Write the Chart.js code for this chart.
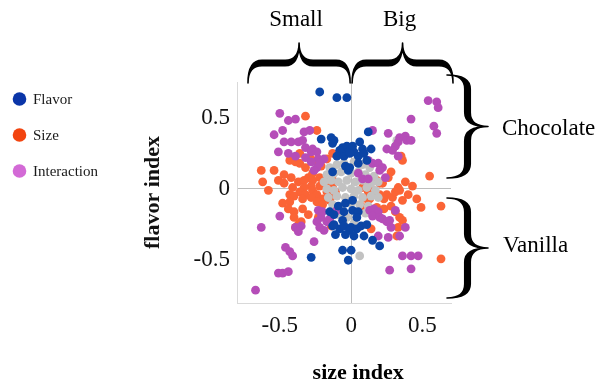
<!DOCTYPE html>
<html>
<head>
<meta charset="utf-8">
<script src="https://cdn.jsdelivr.net/npm/chart.js@4/dist/chart.umd.min.js"></script>
<style>
  html, body { margin: 0; padding: 0; background: #ffffff; }
  #wrap { width: 603px; height: 385px; position: relative; }
</style>
</head>
<body>
<div id="wrap"><canvas id="chart" width="603" height="385"></canvas></div>
<script>
// Tick positions shared by both axes
const tickValues = [-0.5, 0, 0.5];

// Series names shown in the legend
const seriesNames = ['Flavor', 'Size', 'Interaction'];

// Region labels around the plot
const sizeLabels = ['Small', 'Big'];
const flavorLabels = ['Chocolate', 'Vanilla'];

// [size index, flavor index] pairs for each effect
const flavor = [
  [-0.22,0.68],[-0.10,0.64],[-0.03,0.64],[0.12,0.40],[-0.21,0.35],[-0.14,0.36],[-0.12,0.34],
  [-0.13,0.32],[-0.06,0.29],[-0.03,0.30],[-0.08,0.27],[-0.10,0.23],[-0.05,0.23],[-0.02,0.26],
  [0.02,0.26],[0.06,0.33],[0.01,0.30],[0.08,0.28],[0.14,0.28],[0.05,0.23],[0.09,0.25],
  [-0.01,0.25],[-0.04,0.16],[-0.02,0.13],[-0.01,0.15],[0.11,0.20],[0.05,0.18],[-0.13,0.12],
  [-0.09,-0.12],[-0.04,-0.10],[0.01,-0.08],[-0.15,-0.16],[-0.12,-0.18],[-0.05,-0.16],[0.01,-0.15],
  [0.05,-0.16],[0.04,-0.20],[-0.06,-0.22],[-0.13,-0.26],[-0.08,-0.28],[-0.05,-0.26],[0.00,-0.27],
  [0.04,-0.28],[0.07,-0.26],[0.11,-0.25],[-0.01,-0.29],[-0.11,-0.32],[-0.04,-0.32],[0.02,-0.33],
  [0.09,-0.33],[0.15,-0.36],[0.20,-0.40],[-0.06,-0.43],[0.00,-0.43],[-0.02,-0.50],[-0.28,-0.48],
  [-0.12,-0.25]
];

const size = [
  [-0.32,0.51],[-0.24,0.41],[-0.36,0.25],[-0.43,0.20],[-0.39,0.19],[-0.17,0.21],[-0.13,0.25],
  [-0.28,0.21],[-0.24,0.19],[-0.21,0.16],[-0.36,0.18],[-0.32,0.15],
  [-0.63,0.13],[-0.62,0.05],[-0.58,-0.01],[-0.54,0.13],[-0.47,0.10],[-0.51,0.06],[-0.47,0.04],
  [-0.42,0.08],[-0.37,0.05],[-0.30,0.08],[-0.27,0.11],[-0.27,0.06],[-0.22,0.08],[-0.19,0.06],
  [-0.33,0.06],[-0.22,0.02],[-0.28,0.02],[-0.33,0.01],[-0.41,0.01],[-0.16,0.02],[-0.13,0.06],
  [-0.13,0.01],[-0.43,-0.04],[-0.36,-0.02],[-0.32,-0.04],[-0.27,-0.01],[-0.24,-0.04],[-0.17,-0.02],
  [-0.11,-0.02],[-0.15,-0.05],[-0.20,-0.07],[-0.28,-0.06],[-0.34,-0.07],[-0.40,-0.05],[-0.48,-0.10],
  [-0.43,-0.09],[-0.44,-0.14],[-0.40,-0.16],[-0.34,-0.14],[-0.30,-0.18],[-0.24,-0.09],[-0.20,-0.11],
  [-0.23,-0.20],[-0.35,-0.23],[-0.37,-0.25],[-0.39,-0.27],[-0.14,-0.26],[-0.40,-0.20],[-0.15,-0.08],
  [0.55,0.09],[0.35,0.23],[0.36,0.20],[0.28,0.12],[0.26,0.08],[0.22,0.04],[0.18,0.06],
  [0.13,0.04],[0.09,0.06],[0.38,0.05],[0.43,0.02],[0.33,0.01],[0.20,0.04],[0.25,-0.04],
  [0.29,-0.06],[0.34,-0.01],[0.36,-0.08],[0.12,-0.02],[0.08,0.01],[0.15,-0.01],[0.20,-0.04],
  [0.23,-0.07],[0.31,-0.02],[0.40,-0.04],[0.46,-0.07],[0.49,-0.13],[0.63,-0.12],[0.13,-0.07],
  [0.18,-0.13],[0.07,-0.12],[0.23,-0.14],[0.28,-0.12],[0.31,-0.16],[0.34,-0.20],[0.36,-0.22],
  [0.33,-0.27],[0.14,-0.28],[0.32,-0.33],[0.63,-0.49],[0.11,-0.07]
];

const interaction = [
  [-0.50,0.53],[-0.44,0.48],[-0.39,0.49],[-0.54,0.38],[-0.48,0.41],[-0.33,0.40],[-0.29,0.41],
  [-0.47,0.33],[-0.42,0.33],[-0.37,0.33],[-0.34,0.34],[-0.32,0.29],[-0.27,0.28],[-0.28,0.26],
  [-0.24,0.26],[-0.23,0.21],[-0.32,0.22],[-0.28,0.19],[-0.24,0.15],[-0.26,0.13],[-0.51,0.26],
  [-0.44,0.25],[-0.39,0.23],[-0.19,0.21],[-0.22,0.18],
  [0.54,0.62],[0.60,0.61],[0.61,0.57],[0.42,0.49],[0.58,0.44],[0.60,0.39],[0.15,0.41],
  [0.26,0.39],[0.34,0.36],[0.38,0.37],[0.39,0.34],[0.42,0.34],[0.33,0.33],[0.31,0.30],
  [0.25,0.28],[0.29,0.27],[0.33,0.23],[0.12,0.20],[0.15,0.18],[0.19,0.18],[0.22,0.15],
  [0.20,0.13],[0.24,0.08],[0.05,0.11],[0.08,0.07],[0.12,0.07],
  [-0.50,-0.19],[-0.63,-0.27],[-0.39,-0.27],[-0.35,-0.26],[-0.37,-0.30],[-0.23,-0.15],[-0.21,-0.20],
  [-0.24,-0.23],[-0.22,-0.27],[-0.19,-0.29],[-0.17,-0.23],[-0.20,-0.16],[-0.26,-0.37],[-0.46,-0.41],
  [-0.43,-0.44],[-0.41,-0.47],[-0.51,-0.59],[-0.48,-0.59],[-0.44,-0.58],[-0.67,-0.71],[-0.10,-0.15],
  [-0.15,-0.21],
  [0.13,-0.15],[0.16,-0.14],[0.19,-0.16],[0.15,-0.19],[0.20,-0.20],[0.22,-0.21],[0.25,-0.23],
  [0.27,-0.22],[0.28,-0.27],[0.31,-0.15],[0.38,-0.27],[0.19,-0.33],[0.26,-0.34],[0.34,-0.33],
  [0.36,-0.47],[0.42,-0.47],[0.47,-0.47],[0.27,-0.57],[0.42,-0.56]
];

// Items with no significant effect (grey, not in the legend)
const neutral = [
  [-0.15,0.15],[-0.10,0.17],[-0.05,0.18],[0.02,0.19],[0.08,0.17],[0.13,0.15],
  [-0.17,0.10],[-0.12,0.11],[-0.07,0.12],[0.00,0.11],[0.05,0.12],[0.10,0.10],[0.16,0.09],
  [-0.19,0.05],[-0.14,0.06],[-0.09,0.05],[-0.03,0.06],[0.03,0.05],[0.08,0.06],[0.14,0.04],[0.19,0.05],
  [-0.17,0.00],[-0.12,-0.01],[-0.06,0.01],[0.00,0.00],[0.05,-0.01],[0.11,0.01],[0.17,-0.01],
  [-0.16,-0.06],[-0.10,-0.05],[-0.04,-0.06],[0.02,-0.05],[0.08,-0.06],[0.14,-0.05],[0.19,-0.06],
  [-0.13,-0.11],[-0.07,-0.12],[0.00,-0.10],[0.06,-0.11],[0.12,-0.12],
  [-0.09,-0.18],[-0.03,-0.20],[0.04,-0.19],[0.10,-0.17],
  [-0.05,-0.25],[0.02,-0.24],[0.06,-0.47],[0.32,0.34]
];

const COLORS = {
  flavor: '#0b45a6',
  size: '#fb6436',
  interaction: '#b54db8',
  neutral: '#c2c2c2'
};
const LEGEND_COLORS = ['#0a35a8', '#f2440f', '#d36ad6'];
const SERIF = "'Liberation Serif', 'Times New Roman', Times, serif";

Chart.defaults.font.family = SERIF;
Chart.defaults.color = '#111111';

const toPoints = arr => arr.map(p => ({ x: p[0], y: p[1] }));

function dataset(label, arr, color, order) {
  return {
    label,
    data: toPoints(arr),
    backgroundColor: color,
    borderWidth: 0,
    pointRadius: 4.4,
    pointHoverRadius: 4.4,
    order
  };
}

// Curly brace: local coords run from (0,0) to (len,0) with the tip at (len/2,-h)
function brace(ctx, len, h, t) {
  const ym = -h / 2, q = Math.min(14, len / 4), xm = len / 2;
  ctx.beginPath();
  ctx.moveTo(0, 0);
  ctx.quadraticCurveTo(0, ym - t / 2, q, ym - t / 2);
  ctx.lineTo(xm - q, ym - t / 2);
  ctx.quadraticCurveTo(xm, ym - t / 2, xm, -h);
  ctx.quadraticCurveTo(xm, ym - t / 2, xm + q, ym - t / 2);
  ctx.lineTo(len - q, ym - t / 2);
  ctx.quadraticCurveTo(len, ym - t / 2, len, 0);
  ctx.quadraticCurveTo(len, ym + t / 2, len - q, ym + t / 2);
  ctx.lineTo(xm + q, ym + t / 2);
  ctx.quadraticCurveTo(xm, ym + t / 2, xm, -h);
  ctx.quadraticCurveTo(xm, ym + t / 2, xm - q, ym + t / 2);
  ctx.lineTo(q, ym + t / 2);
  ctx.quadraticCurveTo(0, ym + t / 2, 0, 0);
  ctx.closePath();
  ctx.fill();
  ctx.stroke();
}

const decorations = {
  id: 'decorations',
  afterDraw(chart) {
    const { ctx, chartArea: a, scales } = chart;
    const x0 = scales.x.getPixelForValue(0);
    const y0 = scales.y.getPixelForValue(0);
    ctx.save();
    ctx.fillStyle = '#000';
    ctx.strokeStyle = '#000';
    ctx.lineWidth = 1.6;
    ctx.lineJoin = 'round';
    ctx.lineCap = 'round';

    // braces over the size halves
    const topBraces = [[a.left + 11, x0 - 1], [x0 + 1, a.right + 2]];
    topBraces.forEach(([x1, x2]) => {
      ctx.save();
      ctx.translate(x1, a.top + 1);
      brace(ctx, x2 - x1, 40, 5.5);
      ctx.restore();
    });

    // braces beside the flavor halves (pointing right)
    const sideBraces = [[a.top - 7, y0 - 11], [y0 + 9, a.bottom - 5]];
    sideBraces.forEach(([y1, y2]) => {
      ctx.save();
      ctx.translate(a.right - 4, y1);
      ctx.rotate(Math.PI / 2);
      brace(ctx, y2 - y1, 41, 5.5);
      ctx.restore();
    });

    ctx.font = '23px ' + SERIF;
    ctx.textBaseline = 'middle';
    ctx.textAlign = 'center';
    topBraces.forEach(([x1, x2], i) => ctx.fillText(sizeLabels[i], (x1 + x2) / 2 - 3, 20));
    ctx.textAlign = 'left';
    ctx.fillText(flavorLabels[0], 502, (a.top - 7 + y0 - 11) / 2 + 2);
    ctx.fillText(flavorLabels[1], 503, (y0 + 9 + a.bottom - 5) / 2 - 2);

    // x axis title
    ctx.font = 'bold 22px ' + SERIF;
    ctx.textAlign = 'center';
    ctx.fillText('size index', x0 + 7, 373);

    // legend
    ctx.font = '15px ' + SERIF;
    ctx.textAlign = 'left';
    seriesNames.forEach((name, i) => {
      const cy = 99 + i * 36;
      ctx.fillStyle = LEGEND_COLORS[i];
      ctx.beginPath();
      ctx.arc(19.5, cy, 6.8, 0, Math.PI * 2);
      ctx.fill();
      ctx.fillStyle = '#1a1a1a';
      ctx.fillText(name, 33, cy + 1);
    });
    ctx.restore();
  }
};

const gridColor = c => (c.tick && c.tick.value === 0 ? '#bdbdbd' : 'rgba(0,0,0,0)');
const fixedTicks = scale => { scale.ticks = tickValues.map(v => ({ value: v })); };

new Chart(document.getElementById('chart'), {
  type: 'scatter',
  data: {
    datasets: [
      dataset(seriesNames[0], flavor, COLORS.flavor, 1),
      dataset(seriesNames[2], interaction, COLORS.interaction, 2),
      dataset('', neutral, COLORS.neutral, 3),
      dataset(seriesNames[1], size, COLORS.size, 4)
    ]
  },
  options: {
    responsive: false,
    animation: false,
    events: [],
    layout: { padding: { left: 140, top: 82, right: 152, bottom: 0 } },
    plugins: { legend: { display: false }, tooltip: { enabled: false } },
    scales: {
      x: {
        type: 'linear',
        min: -0.8,
        max: 0.7,
        afterBuildTicks: fixedTicks,
        afterFit: s => { s.height = 82; },
        grid: { color: gridColor, drawTicks: false, lineWidth: 1 },
        border: { display: true, color: '#d9d9d9', width: 1 },
        ticks: { font: { size: 23 }, padding: 9, color: '#111', maxRotation: 0 },
        title: { display: false }
      },
      y: {
        type: 'linear',
        min: -0.8,
        max: 0.75,
        afterBuildTicks: fixedTicks,
        afterFit: s => { s.width = 97; },
        grid: { color: gridColor, drawTicks: false, lineWidth: 1 },
        border: { display: true, color: '#d9d9d9', width: 1 },
        ticks: { font: { size: 23 }, padding: 7, color: '#111' },
        title: {
          display: true,
          text: 'flavor index',
          font: { size: 22, weight: 'bold' },
          color: '#111',
          padding: { top: 0, bottom: 0 }
        }
      }
    }
  },
  plugins: [decorations]
});
</script>
</body>
</html>
